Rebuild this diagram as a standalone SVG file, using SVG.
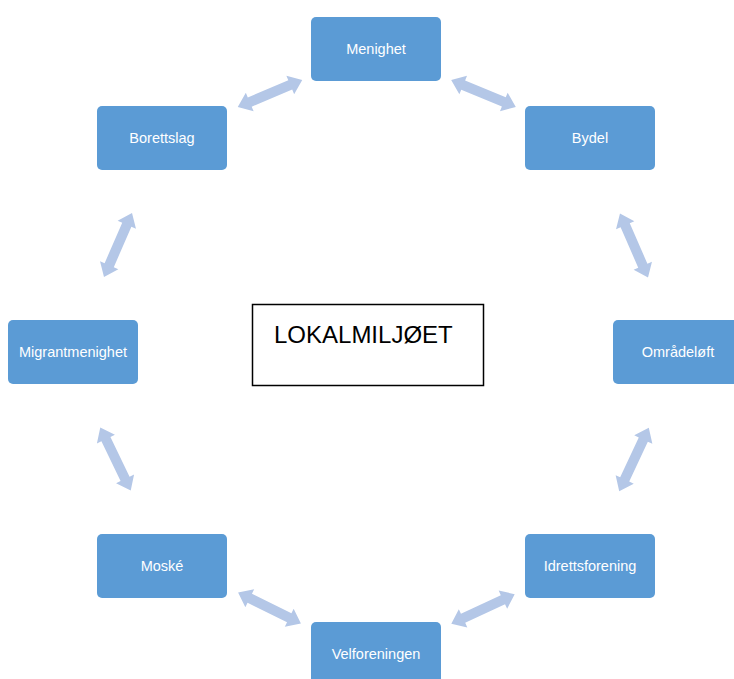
<svg xmlns="http://www.w3.org/2000/svg" xmlns:xlink="http://www.w3.org/1999/xlink" width="734" height="679" viewBox="0 0 734 679">
  <defs>
    <style>
      .node rect { fill: #5B9BD5; }
      .node text { fill: #FFFFFF; font-family: "Liberation Sans", Arial, sans-serif; font-size: 14.5px; text-anchor: middle; dominant-baseline: central; }
      .arrow { fill: #B4C7E7; }
      .center rect { fill: #FFFFFF; stroke: #000000; stroke-width: 1.5; }
      .center text { fill: #000000; font-family: "Liberation Sans", Arial, sans-serif; font-size: 24px; }
    </style>
    <path id="dbl" d="M -35 0 L -22 -10 L -22 -5 L 22 -5 L 22 -10 L 35 0 L 22 10 L 22 5 L -22 5 L -22 10 Z"/>
  </defs>
  <rect width="734" height="679" fill="#FFFFFF"/>

  <g id="connectors" class="arrow">
    <use xlink:href="#dbl" href="#dbl" transform="translate(270 93.5) rotate(-22.9)"/>
    <use xlink:href="#dbl" href="#dbl" transform="translate(483.5 93.5) rotate(22.6)"/>
    <use xlink:href="#dbl" href="#dbl" transform="translate(634 245.5) rotate(66.4)"/>
    <use xlink:href="#dbl" href="#dbl" transform="translate(634 459.5) rotate(115)"/>
    <use xlink:href="#dbl" href="#dbl" transform="translate(483 609) rotate(-25.1)"/>
    <use xlink:href="#dbl" href="#dbl" transform="translate(269.5 608) rotate(26.2)"/>
    <use xlink:href="#dbl" href="#dbl" transform="translate(115.5 459) rotate(64.2)"/>
    <use xlink:href="#dbl" href="#dbl" transform="translate(118 245) rotate(-66.4)"/>
  </g>

  <g id="center" class="center">
    <rect x="252.5" y="304.5" width="231" height="81"/>
    <text x="274" y="343">LOKALMILJØET</text>
  </g>

  <g id="menighet" class="node">
    <rect x="311" y="17" width="130" height="64" rx="5"/>
    <text x="376" y="49">Menighet</text>
  </g>
  <g id="bydel" class="node">
    <rect x="525" y="106" width="130" height="64" rx="5"/>
    <text x="590" y="138">Bydel</text>
  </g>
  <g id="omradeloft" class="node">
    <rect x="613" y="320" width="130" height="64" rx="5"/>
    <text x="678" y="352">Områdeløft</text>
  </g>
  <g id="idrettsforening" class="node">
    <rect x="525" y="534" width="130" height="64" rx="5"/>
    <text x="590" y="566">Idrettsforening</text>
  </g>
  <g id="velforeningen" class="node">
    <rect x="311" y="622" width="130" height="64" rx="5"/>
    <text x="376" y="654">Velforeningen</text>
  </g>
  <g id="moske" class="node">
    <rect x="97" y="534" width="130" height="64" rx="5"/>
    <text x="162" y="566">Moské</text>
  </g>
  <g id="migrantmenighet" class="node">
    <rect x="8" y="320" width="130" height="64" rx="5"/>
    <text x="73" y="352">Migrantmenighet</text>
  </g>
  <g id="borettslag" class="node">
    <rect x="97" y="106" width="130" height="64" rx="5"/>
    <text x="162" y="138">Borettslag</text>
  </g>
</svg>
